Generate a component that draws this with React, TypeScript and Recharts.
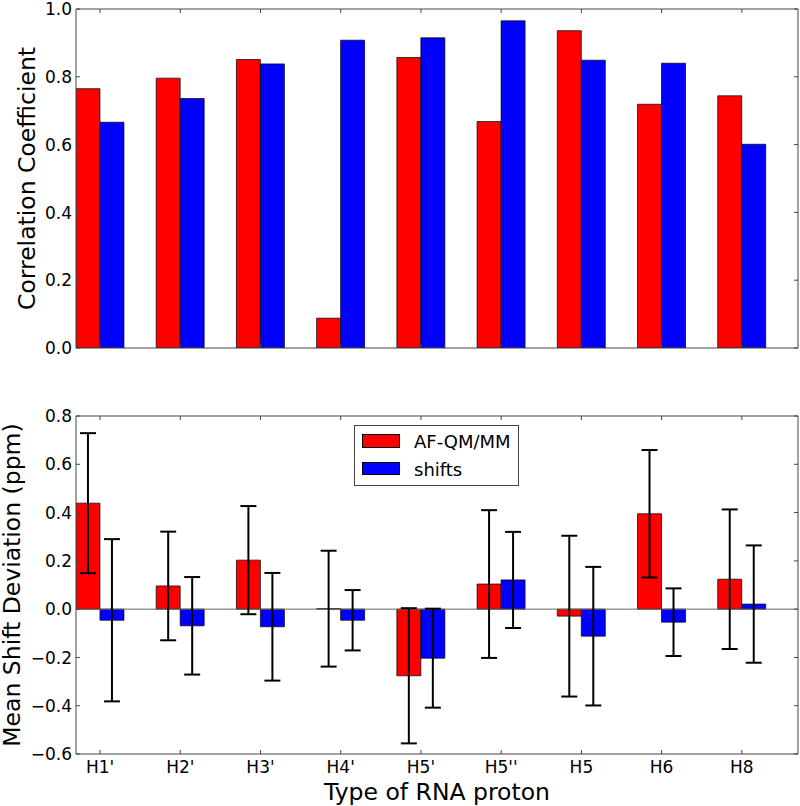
import React from 'react';
import { BarChart, Bar, XAxis, YAxis, ErrorBar, ReferenceLine, Legend, Label } from 'recharts';

const protons = ["H1'", "H2'", "H3'", "H4'", "H5'", "H5''", "H5", "H6", "H8"];
const corrQmmm = [0.765, 0.796, 0.851, 0.088, 0.857, 0.668, 0.936, 0.719, 0.744];
const corrShifts = [0.666, 0.736, 0.838, 0.908, 0.915, 0.965, 0.849, 0.84, 0.601];
const devQmmm = [0.439, 0.096, 0.203, 0.002, -0.276, 0.104, -0.029, 0.395, 0.124];
const errQmmm = [0.29, 0.225, 0.224, 0.24, 0.28, 0.306, 0.333, 0.264, 0.289];
const devShifts = [-0.046, -0.069, -0.073, -0.046, -0.203, 0.121, -0.112, -0.054, 0.021];
const errShifts = [0.336, 0.202, 0.223, 0.125, 0.205, 0.199, 0.287, 0.14, 0.243];
const corrTicks = [0, 0.2, 0.4, 0.6, 0.8, 1.0];
const devTicks = [-0.6, -0.4, -0.2, 0, 0.2, 0.4, 0.6, 0.8];

const FONT = '"DejaVu Sans", sans-serif';
const FRAME = '#444';
const RED = '#ff0000';
const BLUE = '#0000ff';
const TICK_LEN = 4;

const xPos = protons.map((_, i) => i);

const corrData = protons.map((p, i) => ({ x: i, name: p, qmmm: corrQmmm[i], shifts: corrShifts[i] }));
const devData = protons.map((p, i) => ({
  x: i,
  name: p,
  qmmm: devQmmm[i],
  qmmmErr: errQmmm[i],
  shifts: devShifts[i],
  shiftsErr: errShifts[i],
}));

const fmtNum = (v: number) => {
  const s = Math.abs(v).toFixed(1);
  return v < -1e-9 ? '\u2212' + s : s;
};

function LeftTick(props: any) {
  const { x, y, payload } = props;
  return (
    <g>
      <line x1={x} y1={y} x2={x + TICK_LEN} y2={y} stroke={FRAME} />
      <text x={x - 4} y={y} dy="0.36em" textAnchor="end" fontSize={17} fontFamily={FONT} fill="#000">
        {fmtNum(payload.value)}
      </text>
    </g>
  );
}

function RightTick(props: any) {
  const { x, y } = props;
  return <line x1={x} y1={y} x2={x - TICK_LEN} y2={y} stroke={FRAME} />;
}

function TopTick(props: any) {
  const { x, y } = props;
  return <line x1={x} y1={y} x2={x} y2={y + TICK_LEN} stroke={FRAME} />;
}

function BottomTick(props: any) {
  const { x, y, payload, showLabel } = props;
  return (
    <g>
      <line x1={x} y1={y} x2={x} y2={y - TICK_LEN} stroke={FRAME} />
      {showLabel && (
        <text x={x} y={y + 7} dy="0.71em" textAnchor="middle" fontSize={17} fontFamily={FONT} fill="#000">
          {protons[payload.value]}
        </text>
      )}
    </g>
  );
}

function LegendBox() {
  const row = (color: string, text: string, top: number, patchTop: number, patchH: number) => (
    <>
      <div
        style={{
          position: 'absolute',
          left: 7,
          top: patchTop,
          width: 38,
          height: patchH,
          background: color,
          border: '0.7px solid #000',
          boxSizing: 'border-box',
        }}
      />
      <div style={{ position: 'absolute', left: 59, top, lineHeight: '20px', fontSize: 18, color: '#000' }}>{text}</div>
    </>
  );
  return (
    <div
      style={{
        position: 'relative',
        width: 165,
        height: 61,
        border: `1px solid ${FRAME}`,
        boxSizing: 'border-box',
        background: '#fff',
        fontFamily: FONT,
      }}
    >
      {row(RED, 'AF-QM/MM', 6, 8, 14)}
      {row(BLUE, 'shifts', 34, 36, 13)}
    </div>
  );
}

function CorrelationChart() {
  return (
    <BarChart width={800} height={360} data={corrData} margin={{ top: 4, right: 0, bottom: 0, left: 0 }} barGap={0} barSize={24}>
      <XAxis
        dataKey="x"
        type="number"
        domain={[-0.3, 8.7]}
        ticks={xPos}
        interval={0}
        height={12}
        stroke={FRAME}
        tickSize={0}
        tickMargin={0}
        tick={(p: any) => <BottomTick {...p} showLabel={false} />}
        allowDataOverflow
      />
      <XAxis
        xAxisId="top"
        orientation="top"
        dataKey="x"
        type="number"
        domain={[-0.3, 8.7]}
        ticks={xPos}
        interval={0}
        height={5}
        stroke={FRAME}
        tickSize={0}
        tickMargin={0}
        tick={(p: any) => <TopTick {...p} />}
        allowDataOverflow
      />
      <YAxis
        type="number"
        domain={[0, 1]}
        ticks={corrTicks}
        interval={0}
        width={76}
        stroke={FRAME}
        tickSize={0}
        tickMargin={0}
        tick={(p: any) => <LeftTick {...p} />}
        allowDataOverflow
      >
        <Label
          value="Correlation Coefficient"
          angle={-90}
          position="insideLeft"
          offset={27}
          style={{ textAnchor: 'middle' }}
          fontSize={23.5}
          fontFamily={FONT}
          fill="#000"
        />
      </YAxis>
      <YAxis
        yAxisId="right"
        orientation="right"
        type="number"
        domain={[0, 1]}
        ticks={corrTicks}
        interval={0}
        width={2}
        stroke={FRAME}
        tickSize={0}
        tickMargin={0}
        tick={(p: any) => <RightTick {...p} />}
        allowDataOverflow
      />
      <Bar dataKey="qmmm" fill={RED} stroke="#000" strokeWidth={0.7} isAnimationActive={false} />
      <Bar dataKey="shifts" fill={BLUE} stroke="#000" strokeWidth={0.7} isAnimationActive={false} />
    </BarChart>
  );
}

function DeviationChart() {
  return (
    <BarChart width={800} height={446} data={devData} margin={{ top: 51, right: 0, bottom: 0, left: 0 }} barGap={0} barSize={24}>
      <XAxis
        dataKey="x"
        type="number"
        domain={[-0.3, 8.7]}
        ticks={xPos}
        interval={0}
        height={52}
        stroke={FRAME}
        tickSize={0}
        tickMargin={0}
        tick={(p: any) => <BottomTick {...p} showLabel />}
        allowDataOverflow
      >
        <Label value="Type of RNA proton" position="insideBottom" offset={6} fontSize={23.5} fontFamily={FONT} fill="#000" />
      </XAxis>
      <XAxis
        xAxisId="top"
        orientation="top"
        dataKey="x"
        type="number"
        domain={[-0.3, 8.7]}
        ticks={xPos}
        interval={0}
        height={5}
        stroke={FRAME}
        tickSize={0}
        tickMargin={0}
        tick={(p: any) => <TopTick {...p} />}
        allowDataOverflow
      />
      <YAxis
        type="number"
        domain={[-0.6, 0.8]}
        ticks={devTicks}
        interval={0}
        width={76}
        stroke={FRAME}
        tickSize={0}
        tickMargin={0}
        tick={(p: any) => <LeftTick {...p} />}
        allowDataOverflow
      >
        <Label
          value="Mean Shift Deviation (ppm)"
          angle={-90}
          position="insideLeft"
          offset={12}
          style={{ textAnchor: 'middle' }}
          fontSize={23.5}
          fontFamily={FONT}
          fill="#000"
        />
      </YAxis>
      <YAxis
        yAxisId="right"
        orientation="right"
        type="number"
        domain={[-0.6, 0.8]}
        ticks={devTicks}
        interval={0}
        width={2}
        stroke={FRAME}
        tickSize={0}
        tickMargin={0}
        tick={(p: any) => <RightTick {...p} />}
        allowDataOverflow
      />
      <ReferenceLine y={0} stroke="#666" strokeWidth={1} />
      <Legend
        layout="horizontal"
        verticalAlign="middle"
        align="center"
        content={() => <LegendBox />}
        wrapperStyle={{ left: 354, top: 65, width: 165, height: 61 }}
      />
      <Bar dataKey="qmmm" name="AF-QM/MM" fill={RED} stroke="#000" strokeWidth={0.7} isAnimationActive={false}>
        <ErrorBar dataKey="qmmmErr" width={8} strokeWidth={2} stroke="#000" isAnimationActive={false} />
      </Bar>
      <Bar dataKey="shifts" name="shifts" fill={BLUE} stroke="#000" strokeWidth={0.7} isAnimationActive={false}>
        <ErrorBar dataKey="shiftsErr" width={8} strokeWidth={2} stroke="#000" isAnimationActive={false} />
      </Bar>
    </BarChart>
  );
}

export default function App() {
  return (
    <div style={{ position: 'absolute', left: 0, top: 0, width: 800, height: 806, background: '#fff' }}>
      <div style={{ position: 'absolute', left: 0, top: 0 }}>
        <CorrelationChart />
      </div>
      <div style={{ position: 'absolute', left: 0, top: 360 }}>
        <DeviationChart />
      </div>
    </div>
  );
}
